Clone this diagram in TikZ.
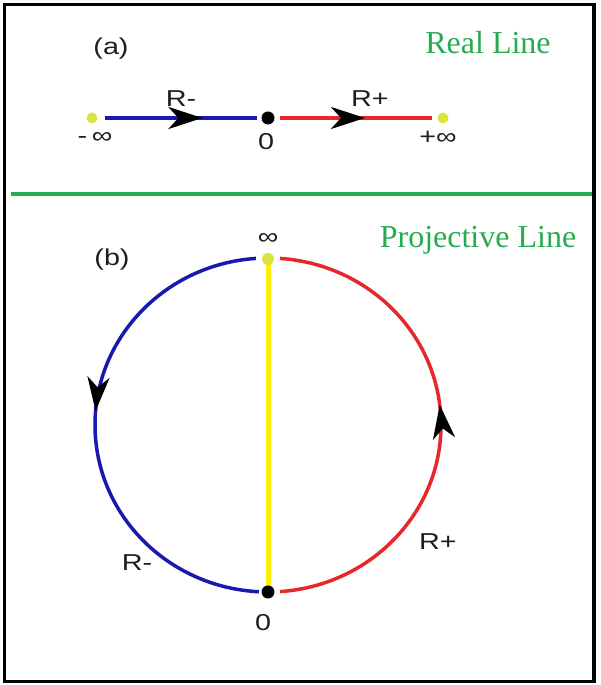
\documentclass[tikz,border=0pt]{standalone}
\usepackage{fontspec}
\setmainfont{Liberation Serif}
\setsansfont{Liberation Sans}
\usetikzlibrary{arrows.meta,decorations.markings,calc}
\definecolor{grn}{RGB}{40,170,80}
\definecolor{myblue}{RGB}{25,25,175}
\definecolor{myred}{RGB}{230,40,45}
\definecolor{myyel}{RGB}{255,238,0}
\definecolor{dotyel}{RGB}{218,228,60}
\definecolor{txt}{RGB}{30,30,30}
\newcommand{\wide}[1]{\scalebox{1.25}[1]{#1}}
\begin{document}
\begin{tikzpicture}[x=1pt,y=1pt,
  lbl/.style={font=\sffamily\fontsize{23}{23}\selectfont, text=txt, inner sep=0pt},
  title/.style={font=\rmfamily\fontsize{32}{32}\selectfont, text=grn, inner sep=0pt},
  ydot/.style={circle, fill=dotyel, minimum size=11pt, inner sep=0pt},
  bdot/.style={circle, fill=black, minimum size=13pt, inner sep=0pt},
  blueline/.style={draw=myblue, line width=3.5pt},
  redline/.style={draw=myred, line width=3.5pt},
  markat/.style={postaction={decorate}, decoration={markings, mark=at position #1 with {\arrow[black]{Stealth[length=34pt,width=22pt,inset=10pt]}}}}
]
\useasboundingbox (0,0) rectangle (600,685);
% frame
\draw[line width=3.5pt] (4.5,680.5) rectangle (594,3.5);
\draw[grn, line width=4pt] (11,491) -- (592,491);
% titles
\node[title] (t1) at (488,642) {Real Line};
\node[title] (t2) at (478,445) {Projective Line};
% (a) real line
\node[lbl] (la) at (111,636) {\wide{(a)}};
\node[ydot] (minf) at (92,567) {};
\node[bdot] (zero) at (268,567) {};
\node[ydot] (pinf) at (443,567) {};
\draw[blueline, shorten <=7pt, shorten >=4pt, markat=0.64] (minf) -- (zero);
\draw[redline, shorten <=5pt, shorten >=5pt, markat=0.555] (zero) -- (pinf);
\node[lbl] (rma) at (181,586) {\wide{R-}};
\node[lbl] (rpa) at (370,586) {\wide{R+}};
\node[lbl] (mi) at (95,547) {\wide{-\,∞}};
\node[lbl] (z) at (266,543) {\wide{0}};
\node[lbl] (pi) at (438,547) {\wide{+∞}};
% (b) projective line
\coordinate (c) at (268,260);
\node[lbl] (lb) at (112,425) {\wide{(b)}};
\draw[myyel, line width=5pt] (268,424) -- (268,95);
\node[ydot, minimum width=12pt, minimum height=10pt] (inf) at (268,426) {};
\node[bdot] (zb) at (268,93) {};
\coordinate (bs) at ($(c)+(94:173 and 167)$);
\coordinate (rs) at ($(c)+(-86:173 and 167)$);
\draw[blueline, markat=0.47] (bs) arc[start angle=94, end angle=267, x radius=173, y radius=167];
\draw[redline, markat=0.54] (rs) arc[start angle=-86, end angle=86, x radius=173, y radius=167];
\node[lbl] (infl) at (268,446) {\wide{∞}};
\node[lbl] (rmb) at (137,122) {\wide{R-}};
\node[lbl] (rpb) at (438,143) {\wide{R+}};
\node[lbl] (zl) at (263,62) {\wide{0}};
\end{tikzpicture}
\end{document}
